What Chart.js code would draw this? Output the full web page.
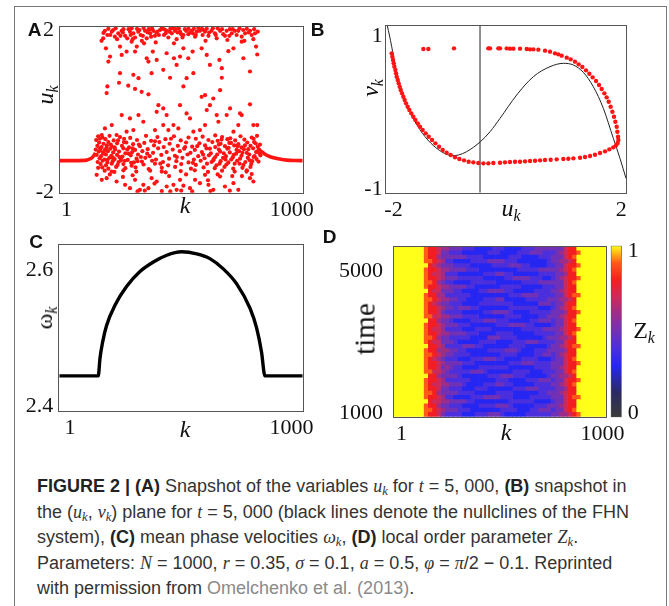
<!DOCTYPE html>
<html>
<head>
<meta charset="utf-8">
<script src="https://cdn.jsdelivr.net/npm/chart.js@4.4.1/dist/chart.umd.min.js"></script>
<style>
html, body { margin: 0; padding: 0; background: #fff; }
#fig { position: relative; width: 669px; height: 606px; overflow: hidden; background: #fff; }
#fig canvas { position: absolute; }
.frame { position: absolute; left: 14px; top: 6px; width: 651px; height: 640px; border: 1px solid #777; }
.pl { position: absolute; font: bold 19px "Liberation Sans", Arial, sans-serif; color: #111; line-height: 1; transform: translate(-50%, -50%); }
.t { position: absolute; font-family: "Liberation Serif", "Times New Roman", serif; font-size: 24px; color: #111; line-height: 1; white-space: nowrap; transform: translate(-50%, -50%); }
.t.rot { transform: translate(-50%, -50%) rotate(-90deg); }
.t sub { font-size: 0.66em; vertical-align: -0.32em; line-height: 0; }
#cap { position: absolute; left: 37px; top: 474px; font: 18px/25.6px "Liberation Sans", Arial, sans-serif; color: #333; white-space: nowrap; }
#cap b { color: #222; }
#cap .m { font-family: "Liberation Serif", serif; font-style: italic; }
#cap sub { font-size: 0.7em; vertical-align: -0.25em; line-height: 0; }
#cap .ref { color: #8a8a8a; }
</style>
</head>
<body>
<div id="fig">
  <div class="frame"></div>
  <canvas id="cA" width="330" height="230" style="left:0;top:0"></canvas>
  <canvas id="cB" width="339" height="230" style="left:330px;top:0"></canvas>
  <canvas id="cC" width="330" height="235" style="left:0;top:220px"></canvas>
  <canvas id="cD" width="339" height="235" style="left:330px;top:220px"></canvas>
  <canvas id="cZ" width="69" height="235" style="left:600px;top:220px"></canvas>

  <div class="pl" style="left:34.5px;top:29px">A</div>
  <div class="pl" style="left:317.5px;top:29px">B</div>
  <div class="pl" style="left:36px;top:241px">C</div>
  <div class="pl" style="left:329.5px;top:236px">D</div>

  <div class="t rot" style="left:45px;top:95px"><i>u</i><sub><i>k</i></sub></div>
  <div class="t" style="left:185px;top:205px"><i>k</i></div>
  <div class="t rot" style="left:370px;top:88px"><i>v</i><sub><i>k</i></sub></div>
  <div class="t" style="left:511px;top:208px"><i>u</i><sub><i>k</i></sub></div>
  <div class="t rot" style="left:44px;top:318px">ω<sub><i>k</i></sub></div>
  <div class="t" style="left:185px;top:429px"><i>k</i></div>
  <div class="t rot" style="left:365px;top:329px;font-size:29px">time</div>
  <div class="t" style="left:506px;top:432px"><i>k</i></div>
  <div class="t" style="left:644px;top:330px">Z<sub><i>k</i></sub></div>

  <div id="cap">
    <b>FIGURE 2 | (A)</b> Snapshot of the variables <span class="m">u<sub>k</sub></span> for <span class="m">t</span> = 5, 000, <b>(B)</b> snapshot in<br>
    the (<span class="m">u<sub>k</sub></span>, <span class="m">v<sub>k</sub></span>) plane for <span class="m">t</span> = 5, 000 (black lines denote the nullclines of the FHN<br>
    system), <b>(C)</b> mean phase velocities <span class="m">ω<sub>k</sub></span>, <b>(D)</b> local order parameter <span class="m">Z<sub>k</sub></span>.<br>
    Parameters: <span class="m">N</span> = 1000, <span class="m">r</span> = 0.35, <span class="m">σ</span> = 0.1, <span class="m">a</span> = 0.5, <span class="m">φ</span> = <span class="m">π</span>/2 − 0.1. Reprinted<br>
    with permission from <span class="ref">Omelchenko et al. (2013)</span>.
  </div>
</div>

<script>
// ---------- Panel A: snapshot of u_k (red dots) ----------
// incoherent oscillators [k, u]
const aIncoherent = [
  // upper band
  [172,1.66],[179,1.72],[196,1.80],[214,1.88],[227,1.76],[241,1.84],[255,1.90],[269,1.78],[278,1.72],[289,1.88],
  [303,1.84],[310,1.74],[323,1.88],[333,1.80],[351,1.90],[358,1.72],[372,1.84],[385,1.90],[392,1.78],[402,1.88],
  [413,1.92],[429,1.80],[440,1.90],[447,1.74],[461,1.84],[474,1.90],[481,1.70],[495,1.88],[509,1.80],[520,1.90],
  [529,1.82],[543,1.90],[557,1.76],[564,1.88],[577,1.90],[588,1.80],[598,1.88],[612,1.78],[625,1.90],[639,1.84],
  [646,1.72],[660,1.90],[673,1.82],[687,1.90],[698,1.78],[708,1.84],[721,1.90],[735,1.90],[749,1.76],[763,1.84],
  [783,1.90],[804,1.84],[797,1.70],[200,1.95],[230,1.96],[262,1.94],[296,1.96],[318,1.95],[345,1.97],[366,1.94],
  [380,1.96],[420,1.97],[455,1.95],[490,1.96],[530,1.95],[570,1.97],[605,1.95],[650,1.96],[700,1.94],[740,1.96],
  [770,1.95],[180,1.85],[250,1.78],[300,1.70],[338,1.66],[395,1.62],[470,1.60],[505,1.74],[600,1.66],[690,1.68],
  [760,1.66],[790,1.80],[815,1.88],[370,1.93],[398,1.86],[425,1.95],[436,1.84],[468,1.96],[485,1.86],[515,1.94],
  [548,1.84],[585,1.95],[615,1.86],
  [186,1.90],[208,1.80],[220,1.92],[236,1.70],[260,1.86],[283,1.94],[292,1.80],[328,1.92],[342,1.78],[362,1.86],
  [376,1.76],[408,1.80],[432,1.93],[452,1.88],[478,1.94],[500,1.82],[536,1.86],[552,1.95],[560,1.80],[592,1.92],
  [630,1.96],[642,1.80],[668,1.94],[680,1.78],[712,1.94],[728,1.80],[755,1.92],[778,1.86],[800,1.94],
  // scattered upper half
  [190,1.48],[207,1.28],[200,1.16],[248,1.52],[255,1.32],[275,1.40],[296,1.64],[310,1.40],[317,1.52],[347,1.60],
  [358,1.24],[365,1.16],[383,1.40],[399,1.20],[440,1.36],[470,1.24],[481,1.08],[495,1.28],[509,1.48],[529,1.24],
  [547,1.40],[584,1.48],[605,1.32],[618,1.08],[657,1.20],[667,1.00],[694,1.41],[715,1.48],[749,1.64],[756,1.24],
  [783,0.92],[808,1.52],[813,1.33],[248,0.88],[303,0.84],[324,0.76],[378,0.88],[426,0.96],[522,0.76],[550,0.88],
  [667,0.77],[196,0.56],[193,0.40],[244,0.65],[282,0.58],[310,0.50],[337,0.43],[365,0.37],[454,0.77],[509,0.56],
  [584,0.31],[598,0.35],[632,0.27],[660,0.47],[687,-0.13],[701,0.03],[742,-0.09],[783,0.13],[797,-0.37],[813,-0.37],
  // middle
  [255,-0.13],[289,-0.21],[344,-0.29],[324,-0.13],[399,-0.05],[406,0.11],[426,0.03],[440,-0.13],[468,-0.37],[495,0.11],
  [522,-0.09],[536,-0.21],[605,-0.01],[618,0.11],[653,-0.29],[715,-0.53],[735,-0.37],[749,-0.13],[214,-0.37],[186,-0.45],
  [173,-0.61],[234,-0.61],[275,-0.53],[303,-0.49],[392,-0.49],[426,-0.37],[447,-0.49],[488,-0.45],[550,-0.53],[577,-0.49],
  [598,-0.37],[646,-0.13],
  // dense lower cloud
  [158,-0.64],[176,-0.67],[205,-0.63],[248,-0.66],[290,-0.68],[355,-0.63],[402,-0.66],[470,-0.64],[530,-0.67],[588,-0.65],
  [640,-0.62],[668,-0.66],[702,-0.69],[744,-0.64],[790,-0.67],[812,-0.63],
  [150,-0.73],[188,-0.71],[222,-0.74],[265,-0.70],[318,-0.73],[376,-0.75],[435,-0.71],[498,-0.74],[560,-0.70],[612,-0.73],
  [650,-0.75],[690,-0.71],[722,-0.74],[760,-0.72],[798,-0.70],
  [162,-0.79],[180,-0.82],[200,-0.78],[236,-0.81],[274,-0.79],[302,-0.83],[348,-0.80],[410,-0.78],[452,-0.82],[520,-0.79],
  [575,-0.81],[628,-0.78],[662,-0.82],[705,-0.80],[735,-0.83],[772,-0.79],[806,-0.81],[824,-0.84],
  [155,-0.87],[172,-0.90],[194,-0.86],[214,-0.89],[256,-0.87],[285,-0.91],[330,-0.88],[388,-0.86],[428,-0.90],[486,-0.87],
  [545,-0.89],[598,-0.86],[640,-0.90],[680,-0.88],[718,-0.86],[748,-0.91],[785,-0.87],[815,-0.89],
  [148,-0.96],[166,-0.93],[186,-0.97],[208,-0.94],[228,-0.96],[262,-0.93],[310,-0.97],[362,-0.95],[405,-0.93],[465,-0.96],
  [512,-0.94],[556,-0.97],[604,-0.93],[655,-0.96],[690,-0.94],[728,-0.97],[758,-0.95],[796,-0.93],[820,-0.96],
  [160,-1.01],[178,-1.04],[198,-1.00],[220,-1.03],[244,-1.01],[270,-1.05],[298,-1.02],[340,-1.00],[384,-1.04],[440,-1.02],
  [494,-1.00],[538,-1.04],[585,-1.02],[622,-1.05],[660,-1.01],[700,-1.03],[738,-1.00],[770,-1.04],[808,-1.02],
  [152,-1.09],[170,-1.12],[190,-1.08],[212,-1.11],[236,-1.09],[258,-1.13],[292,-1.10],[322,-1.08],[370,-1.12],[418,-1.09],
  [474,-1.11],[526,-1.08],[570,-1.12],[614,-1.10],[648,-1.08],[684,-1.12],[716,-1.09],[748,-1.11],[780,-1.08],[802,-1.12],
  [826,-1.10],
  [164,-1.17],[184,-1.20],[204,-1.16],[226,-1.19],[250,-1.17],[280,-1.21],[316,-1.18],[352,-1.16],[396,-1.20],[450,-1.18],
  [505,-1.16],[552,-1.20],[596,-1.17],[634,-1.19],[672,-1.16],[706,-1.20],[742,-1.18],[774,-1.16],[810,-1.19],
  [156,-1.26],[176,-1.23],[196,-1.27],[218,-1.24],[242,-1.26],[268,-1.23],[305,-1.27],[338,-1.25],[380,-1.23],[425,-1.26],
  [480,-1.24],[530,-1.27],[580,-1.23],[625,-1.26],[662,-1.24],[694,-1.27],[730,-1.23],[764,-1.26],[792,-1.24],[818,-1.25],
  [168,-1.31],[190,-1.34],[214,-1.30],[238,-1.33],[262,-1.31],[296,-1.35],[345,-1.32],[392,-1.30],[446,-1.34],[500,-1.31],
  [560,-1.33],[606,-1.30],[645,-1.34],[686,-1.32],[720,-1.30],[756,-1.33],[788,-1.31],
  [175,-1.39],[200,-1.42],[232,-1.38],[270,-1.41],[312,-1.39],[366,-1.43],[420,-1.40],[475,-1.38],[540,-1.42],[592,-1.39],
  [638,-1.41],[678,-1.38],[714,-1.42],[752,-1.40],[785,-1.38],
  [185,-1.47],[225,-1.50],[262,-1.46],[315,-1.49],[372,-1.47],[436,-1.51],[498,-1.48],[556,-1.46],[610,-1.50],[668,-1.47],
  [720,-1.49],[770,-1.46],
  [168,-0.98],[182,-1.06],[210,-0.84],[226,-0.91],[246,-1.14],[264,-0.78],[284,-1.06],[300,-0.93],[320,-1.24],[196,-1.21],
  [655,-0.84],[675,-1.05],[695,-0.92],[712,-1.15],[732,-0.88],[752,-1.04],[776,-0.95],[798,-1.14],[816,-1.00],[640,-1.14],
  [165,-0.70],[192,-0.92],[218,-1.15],[240,-0.74],[252,-1.22],[278,-0.96],[294,-1.28],[326,-0.84],[334,-1.14],[360,-1.06],
  [392,-0.76],[414,-1.30],[458,-0.70],[482,-1.14],[516,-0.90],[548,-1.28],[566,-0.88],[590,-1.08],[618,-0.94],[632,-1.22],
  [658,-1.30],[666,-0.72],[682,-1.20],[698,-0.80],[726,-1.06],[740,-1.30],[762,-0.86],[782,-1.22],[800,-0.78],[822,-1.05],
  [158,-1.40],[206,-1.56],[300,-1.58],[450,-1.60],[520,-1.56],[650,-1.56],[710,-1.60],[790,-1.55],
  // bottom
  [152,-1.57],[173,-1.69],[193,-1.65],[214,-1.49],[234,-1.73],[269,-1.81],[289,-1.89],[310,-1.69],[330,-1.93],[344,-1.81],
  [365,-1.89],[378,-1.65],[399,-1.73],[420,-1.49],[440,-1.85],[468,-1.81],[481,-1.93],[495,-1.69],[509,-1.83],[536,-1.89],
  [557,-1.69],[577,-1.77],[598,-1.57],[612,-1.81],[632,-1.93],[660,-1.61],[680,-1.85],[715,-1.77],[735,-1.93],[769,-1.49],
  [783,-1.65],[797,-1.73],[320,-1.97],[350,-1.95],[420,-1.96],[455,-1.97],[500,-1.95],[545,-1.97],[620,-1.96],[700,-1.95],
  [260,-1.62],[390,-1.78],[610,-1.70],[750,-1.60]
];
// coherent oscillators (dense, drawn as a thick line)
const aLeftK  = [1, 50, 100, 112, 122, 132, 140, 147];
const aLeftU  = [-1.227, -1.227, -1.222, -1.21, -1.19, -1.16, -1.11, -1.04];
const aRightK = [815, 828, 842, 860, 880, 905, 935, 970, 1000];
const aRightU = [-0.95, -1.0, -1.06, -1.12, -1.16, -1.19, -1.215, -1.225, -1.227];
const kTickLabels = ['1', '1000'];
const uTickLabels = ['-2', '2'];

// ---------- Panel B: (u_k, v_k) plane ----------
const bDots = [
  [-1.900,0.672],[-1.889,0.632],[-1.878,0.592],[-1.867,0.552],[-1.856,0.512],[-1.839,0.472],[-1.828,0.432],[-1.817,0.392],
  [-1.800,0.352],[-1.784,0.312],[-1.767,0.272],[-1.750,0.232],[-1.728,0.192],[-1.706,0.152],[-1.684,0.112],[-1.662,0.072],
  [-1.634,0.032],[-1.606,-0.008],[-1.573,-0.048],[-1.540,-0.088],[-1.506,-0.128],[-1.467,-0.168],[-1.429,-0.208],
  [-1.384,-0.248],[-1.334,-0.288],[-1.284,-0.328],[-1.229,-0.368],[-1.173,-0.408],[-1.112,-0.448],[-1.051,-0.488],
  [-0.985,-0.520],[-0.918,-0.548],[-0.846,-0.576],[-0.774,-0.596],[-0.696,-0.612],[-0.619,-0.628],[-0.541,-0.636],
  [-0.458,-0.644],[-0.374,-0.648],
  [-0.291,-0.648],[-0.208,-0.644],[-0.097,-0.640],[-0.014,-0.636],[0.069,-0.632],[0.153,-0.628],[0.236,-0.628],
  [0.319,-0.624],[0.402,-0.620],[0.486,-0.616],[0.569,-0.612],[0.652,-0.608],[0.746,-0.604],[0.846,-0.600],
  [0.957,-0.596],[1.040,-0.592],[1.124,-0.588],[1.235,-0.580],[1.318,-0.572],[1.401,-0.560],[1.484,-0.544],
  [1.567,-0.524],[1.651,-0.504],[1.723,-0.480],[1.789,-0.456],[1.834,-0.432],[1.861,-0.404],[1.873,-0.368],
  [1.867,-0.328],[1.856,-0.268],[1.845,-0.208],[1.823,-0.148],[1.800,-0.088],[1.773,-0.028],[1.745,0.032],
  [1.712,0.092],[1.678,0.144],[1.640,0.192],[1.595,0.244],[1.551,0.292],[1.501,0.340],[1.445,0.384],[1.390,0.428],
  [1.334,0.468],[1.273,0.508],[1.212,0.540],[1.151,0.572],[1.079,0.600],[1.013,0.620],
  [0.929,0.644],[0.874,0.660],[0.818,0.672],[0.735,0.692],[0.652,0.704],[0.541,0.716],[0.458,0.720],[0.402,0.720],
  [0.347,0.724],[0.236,0.728],[0.125,0.728],[0.069,0.728],[0.014,0.732],[-0.097,0.732],[-0.125,0.732],[-0.264,0.732],
  [-0.291,0.732],[-0.863,0.732],[-1.290,0.724],[-1.373,0.724]
];
const bCubic = [
  [-1.972,1.0],[-1.939,0.892],[-1.900,0.752],[-1.845,0.532],[-1.761,0.292],[-1.650,0.052],[-1.512,-0.148],
  [-1.345,-0.328],[-1.151,-0.468],[-0.985,-0.540],[-0.901,-0.556],[-0.791,-0.548],[-0.652,-0.508],[-0.424,-0.388],
  [-0.263,-0.268],[-0.097,-0.108],[0.180,0.172],[0.458,0.392],[0.735,0.512],[0.957,0.552],[1.124,0.532],
  [1.290,0.444],[1.456,0.272],[1.623,0.012],[1.789,-0.348],[1.900,-0.588],[2.0,-0.828]
];
const bVertU = -0.43;
const bUTickLabels = ['-2', '2'];
const bVTickLabels = ['-1', '1'];

// ---------- Panel C: mean phase velocities ----------
const cK     = [1, 161, 168, 179, 195, 230, 277, 332, 387, 442, 503, 565, 619, 674, 729, 784, 811, 831, 845, 1000];
const cOmega = [2.445, 2.445, 2.471, 2.495, 2.519, 2.549, 2.576, 2.598, 2.612, 2.622, 2.627, 2.624, 2.617, 2.602,
                2.580, 2.544, 2.515, 2.480, 2.445, 2.445];
const omegaTickLabels = ['2.4', '2.6'];

// ---------- Panel D: local order parameter Z_k ----------
// one string per time row (top = latest), one digit per k-bin of 20; Z = (digit + 1) / 10
const zRows = [
  '9999999 87765 544433322223332222333444444 4677 9999999',
  '9999999 87764 433322222233322223334443334 5677 8999999',
  '9999999 87754 444443333222222333222233344 4678 9999999',
  '9999999 88765 332222333344443332222222344 5567 9999999',
  '9999999 97654 443333222223333444332222334 4677 8999999',
  '9999999 87765 544443332222222223333344444 5678 9999999',
  '9999999 87665 333222222333443322222233334 4577 9999999',
  '9999999 87765 444333333222223344443332234 5677 8999999',
  '9999999 88754 332222333333222222333344444 4678 9999999',
  '9999999 87765 544443322222233333222223334 4677 9999999',
  '9999999 97664 443322223344443322222333344 5677 9999999',
  '9999999 87755 333333222222222333444433334 4678 8999999',
  '9999999 88765 544332222333442222233333444 5567 9999999',
  '9999999 87654 433322223333333322222244434 4677 9999999',
  '9999999 87765 443444332222222333333322234 5678 9999999',
  '9999999 87764 333322222334444322223333344 4577 8999999',
  '9999999 88665 544433332222223333222233444 5677 9999999',
  '9999999 97754 432222333444333222223344434 4678 9999999',
  '9999999 87765 444333222222333444433222234 4677 9999999',
  '9999999 87665 333322233332222222333334444 5677 8999999',
  '9999999 87765 544443332222333322222333334 4678 9999999',
  '9999999 88754 433333222244433332222223444 5567 9999999',
  '9999999 87664 443222223333222233344433334 4677 9999999',
  '9999999 97765 333344433222222333322222344 5678 8999999',
  '9999999 87755 544332222233334443222333444 4577 9999999',
  '9999999 88765 443333222222233332222334434 5677 9999999',
  '9999999 87654 333222333444332222333322234 4678 9999999',
  '9999999 87765 444433322222222333444333344 4677 8999999',
  '9999999 87764 543322223333333222222333344 5677 9999999',
  '9999999 88665 433333444322222233332223334 4678 9999999',
  '9999999 97754 444322222233344433322222344 5567 9999999',
  '9999999 87765 333333222222333222233344434 4677 8999999',
  '9999999 87665 544432222333443322222333344 5678 9999999',
  '9999999 87764 433322233322222233344433334 4577 9999999',
  '9999999 88754 444333322222333322222233444 5677 9999999',
  '9999999 87765 332222333444433322223333344 4678 8999999',
  '9999999 97665 544443322222222333333222234 4677 9999999',
  '9999999 87754 433322223333444322222333444 5677 9999999',
  '9999999 88765 444333222222233332223344434 4678 9999999',
  '9999999 87764 333322233344432222233333344 5567 8999999'
];
const timeRange = [900, 5700];
const kBinWidth = 20;
const timeTickLabels = ['1000', '5000'];
const zTickLabels = ['0', '1'];
const zStops = [
  [0.0, '#3a3a3a'], [0.15, '#2b2b66'], [0.3, '#2626f2'], [0.4, '#4b2fdc'], [0.5, '#7131b6'],
  [0.6, '#9c2d8a'], [0.7, '#cc2a5a'], [0.8, '#f21e22'], [0.9, '#ff5a18'], [1.0, '#ffff1a']
];

// ---------- helpers ----------
const SERIF = '"Liberation Serif", "Times New Roman", serif';
const RED = '#ff1414';

function axis(pos, min, max, size, at, labels, pad) {
  return {
    type: 'linear', position: pos, min: min, max: max, offset: false,
    grid: { display: false, drawTicks: false },
    border: { display: false },
    ticks: {
      padding: pad, color: '#111', autoSkip: false, maxRotation: 0,
      font: { family: SERIF, size: 22 },
      callback: (v, i) => labels[i]
    },
    afterBuildTicks: s => { s.ticks = at.map(v => ({ value: v })); },
    afterFit: s => { if (s.isHorizontal()) s.height = size; else s.width = size; }
  };
}

function baseOpts(padding, scales, extra) {
  return Object.assign({
    responsive: false, animation: false, events: [],
    layout: { padding: padding },
    plugins: { legend: { display: false }, tooltip: { enabled: false } },
    scales: scales
  }, extra || {});
}

// box around the plot area
const boxPlugin = {
  id: 'box',
  afterDraw(chart) {
    const a = chart.chartArea, c = chart.ctx;
    c.save();
    c.strokeStyle = '#555';
    c.lineWidth = 1;
    const l = Math.round(a.left) - 0.5, t = Math.round(a.top) - 0.5;
    c.strokeRect(l, t, Math.round(a.right) - Math.round(a.left) + 1, Math.round(a.bottom) - Math.round(a.top) + 1);
    c.restore();
  }
};

function hexToRgb(h) {
  const n = parseInt(h.slice(1), 16);
  return [n >> 16, (n >> 8) & 255, n & 255];
}
function zColor(z) {
  for (let i = 1; i < zStops.length; i++) {
    if (z <= zStops[i][0] + 1e-9) {
      const [z0, c0] = zStops[i - 1], [z1, c1] = zStops[i];
      const t = (z - z0) / (z1 - z0);
      const a = hexToRgb(c0), b = hexToRgb(c1);
      return 'rgb(' + a.map((v, j) => Math.round(v + (b[j] - v) * t)).join(',') + ')';
    }
  }
  return zStops[zStops.length - 1][1];
}

const xy = (xs, ys) => xs.map((x, i) => ({ x: x, y: ys[i] }));
const pairs = arr => arr.map(p => ({ x: p[0], y: p[1] }));

// ---------- A ----------
new Chart(document.getElementById('cA'), {
  type: 'scatter',
  data: {
    datasets: [
      { data: pairs(aIncoherent), pointRadius: 2.1, pointBackgroundColor: RED, pointBorderWidth: 0 },
      { data: xy(aLeftK, aLeftU), showLine: true, borderColor: RED, borderWidth: 3.6, pointRadius: 0, cubicInterpolationMode: 'monotone' },
      { data: xy(aRightK, aRightU), showLine: true, borderColor: RED, borderWidth: 3.6, pointRadius: 0, cubicInterpolationMode: 'monotone' }
    ]
  },
  options: baseOpts({ left: 16, top: 26.7, right: 27.3, bottom: 7.3 }, {
    x: axis('bottom', 1, 1000, 30, [28, 955], kTickLabels, 4),
    y: axis('left', -2, 2, 44, [-1.98, 1.92], uTickLabels, 6)
  }),
  plugins: [boxPlugin]
});

// ---------- B ----------
new Chart(document.getElementById('cB'), {
  type: 'scatter',
  data: {
    datasets: [
      { data: pairs(bDots), pointRadius: 2.2, pointBackgroundColor: RED, pointBorderWidth: 0 },
      { data: pairs(bCubic), showLine: true, borderColor: '#222', borderWidth: 1, pointRadius: 0, cubicInterpolationMode: 'monotone' },
      { data: [{ x: bVertU, y: -1 }, { x: bVertU, y: 1 }], showLine: true, borderColor: '#222', borderWidth: 1, pointRadius: 0 }
    ]
  },
  options: baseOpts({ left: 15.7, top: 26, right: 43, bottom: 7.3 }, {
    x: axis('bottom', -2, 2, 30, [-1.87, 1.92], bUTickLabels, 4),
    y: axis('left', -1, 1, 40, [-0.956, 0.872], bVTickLabels, 3)
  }),
  plugins: [boxPlugin]
});

// ---------- C ----------
new Chart(document.getElementById('cC'), {
  type: 'scatter',
  data: {
    datasets: [
      { data: xy(cK, cOmega), showLine: true, borderColor: '#000', borderWidth: 3.4, pointRadius: 0, cubicInterpolationMode: 'monotone' }
    ]
  },
  options: baseOpts({ left: 15.3, top: 25, right: 27.3, bottom: 14.3 }, {
    x: axis('bottom', 1, 1000, 30, [45, 954], kTickLabels, 4),
    y: axis('left', 2.394, 2.637, 44, [2.4, 2.6], omegaTickLabels, 6)
  }),
  plugins: [boxPlugin]
});

// ---------- D ----------
const rows = zRows.map(r => r.replace(/\s/g, ''));
const rowStep = (timeRange[1] - timeRange[0]) / rows.length;
const rowTimes = rows.map((_, r) => timeRange[1] - rowStep * (r + 0.5));
const nBins = rows[0].length;
const heatSets = [];
for (let b = 0; b < nBins; b++) {
  const k0 = Math.max(1, b * kBinWidth), k1 = (b + 1) * kBinWidth;
  heatSets.push({
    data: rows.map((row, r) => ({ y: rowTimes[r], x: [k0, k1] })),
    backgroundColor: rows.map(row => zColor((parseInt(row[b], 10) + 1) / 10)),
    borderWidth: 0,
    grouped: false,
    barPercentage: 1,
    categoryPercentage: 1
  });
}
new Chart(document.getElementById('cD'), {
  type: 'bar',
  data: { datasets: heatSets },
  options: baseOpts({ left: 9, top: 26.7, right: 63.3, bottom: 8.3 }, {
    x: axis('bottom', 1, 1000, 30, [36, 985], kTickLabels, 4),
    y: axis('left', timeRange[0], timeRange[1], 55, [1000, 5000], timeTickLabels, 11)
  }, { indexAxis: 'y' }),
  plugins: [boxPlugin]
});

// colour bar
new Chart(document.getElementById('cZ'), {
  type: 'bar',
  data: {
    labels: [''],
    datasets: [{
      data: [[0, 1]],
      backgroundColor: ctx => {
        const ch = ctx.chart, a = ch.chartArea;
        if (!a) return null;
        const g = ch.ctx.createLinearGradient(0, a.bottom, 0, a.top);
        zStops.forEach(s => g.addColorStop(s[0], s[1]));
        return g;
      },
      borderColor: '#555', borderWidth: 1, borderSkipped: false,
      barPercentage: 1, categoryPercentage: 1
    }]
  },
  options: baseOpts({ left: 10.7, top: 25.7, right: 27.3, bottom: 37.7 }, {
    x: { display: false },
    y: axis('right', 0, 1, 20, [0.023, 0.965], zTickLabels, 6)
  })
});
</script>
</body>
</html>
